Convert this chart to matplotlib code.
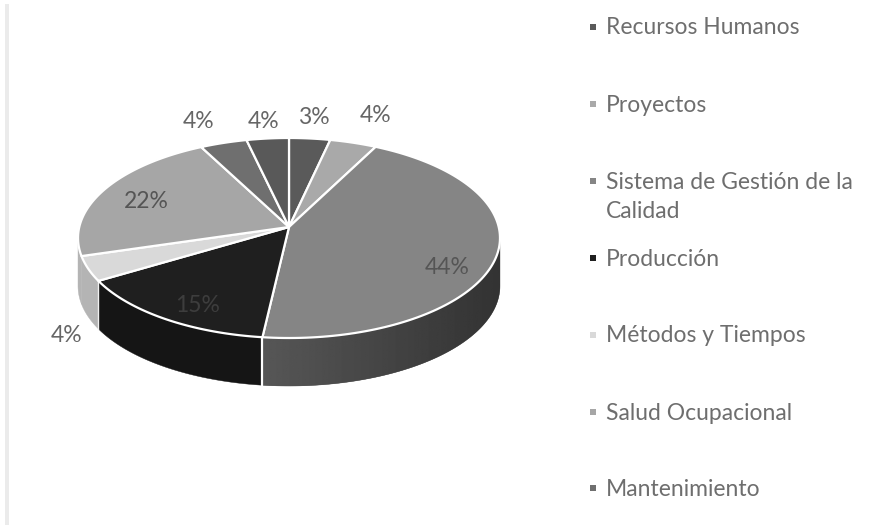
import numpy as np
from matplotlib import pyplot as plt

# slices, clockwise from 12 o'clock
values = [3.5, 4.0, 44.3, 14.6, 4.0, 22.0, 4.0, 3.6]
pct_labels = ['3%', '4%', '44%', '15%', '4%', '22%', '4%', '4%']
top_colors = ['#5a5a5a', '#a9a9a9', '#858585', '#1f1f1f', '#d9d9d9', '#a6a6a6', '#6f6f6f', '#595959']
side_colors = ['#3c3c3c', '#707070', '#4a4a4a', '#151515', '#b4b4b4', '#b4b4b4', '#4a4a4a', '#3c3c3c']

legend_names = ['Recursos Humanos', 'Proyectos', 'Sistema de Gestión de la\nCalidad', 'Producción',
                'Métodos y Tiempos', 'Salud Ocupacional', 'Mantenimiento']

# layout, in pixels of the 876x525 picture
hub_x, hub_y = 289, 227
rx, ry, persp = 209.7, 98.8, 0.11
depth = 48
label_xy = [(314, 117), (376, 115), (447, 268), (198, 306), (67, 336), (146, 201), (199, 121), (264, 121)]
label_colors = ['#666666', '#666666', '#555555', '#3d3d3d', '#666666', '#555555', '#666666', '#666666']
legend_y = [28, 105, 197, 259, 336, 413, 489]


def project(theta):
    # tilted circle seen in perspective, theta clockwise from the top
    d = 1 + persp * np.cos(theta)
    return hub_x + rx * np.sin(theta) / d, hub_y - ry * np.cos(theta) / d


fig = plt.figure(figsize=(8.76, 5.25), dpi=100)
ax = fig.add_axes([0, 0, 1, 1])
ax.axis('off')

# faint frame edge on the left
ax.axvspan(5, 9, ymin=0, ymax=1 - 4 / 525, color='#ebebeb', lw=0)

edges = 2 * np.pi * np.cumsum([0] + values) / sum(values)
side_a = np.arccos(-persp)
side_b = 2 * np.pi - side_a

# side wall
for i in range(len(values)):
    a = max(edges[i], side_a)
    b = min(edges[i + 1], side_b)
    if b <= a:
        continue
    t = np.linspace(a, b, 80)
    x, y = project(t)
    poly = ax.fill(np.r_[x, x[::-1]], np.r_[y, y[::-1] + depth], color=side_colors[i], lw=0.3, zorder=2)[0]
    if i == 2:
        # big slice has a gradient on its wall, dark on the right
        grad = np.linspace(0.34, 0.20, 200).reshape(1, -1)
        im = ax.imshow(grad, extent=(x.min(), x.max(), y.max() + depth, y.min()), cmap='gray',
                       vmin=0, vmax=1, aspect='auto', zorder=2.5)
        im.set_clip_path(poly)

# white seam on the wall between the big slice and the black one
x, y = project(edges[3])
ax.plot([x, x], [y, y + depth], color='white', lw=1.6, zorder=3)
x, y = project(edges[4])
ax.plot([x, x], [y, y + depth], color='#f0f0f0', lw=1.0, zorder=3)

# top face
for i in range(len(values)):
    t = np.linspace(edges[i], edges[i + 1], 120)
    x, y = project(t)
    ax.fill(np.r_[hub_x, x], np.r_[hub_y, y], facecolor=top_colors[i], edgecolor='white', lw=1.6,
            joinstyle='round', zorder=4)

for lab, (x, y), c in zip(pct_labels, label_xy, label_colors):
    ax.text(x, y, lab, ha='center', va='center', family='Lato', fontsize=16.5, color=c, zorder=5)

for name, y, c in zip(legend_names, legend_y, top_colors):
    first_y = y - 16 if '\n' in name else y - 1
    ax.scatter([593], [first_y], marker='s', s=22, color=c, lw=0)
    ax.text(606, y, name, ha='left', va='center', family='Lato', fontsize=16.5, color='#6e6e6e',
            linespacing=1.42)

ax.set_xlim(0, 876)
ax.set_ylim(525, 0)

fig.savefig('out.png', dpi=100)
